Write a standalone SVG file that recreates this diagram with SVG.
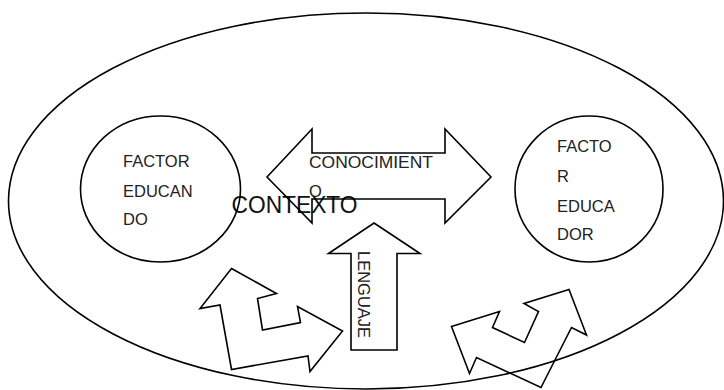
<svg xmlns="http://www.w3.org/2000/svg" width="724" height="390" viewBox="0 0 724 390">
<style>
.sh{fill:none;stroke:#000;stroke-width:1.6;stroke-linejoin:miter}
.t{font-family:"Liberation Sans",Arial,sans-serif;font-size:16.5px;fill:#222}
.big{font-family:"Liberation Sans",Arial,sans-serif;font-size:23px;fill:#111}
</style>
<rect width="724" height="390" fill="#fff"/>
<g id="contexto">
<ellipse class="sh" cx="366" cy="201" rx="357.5" ry="188"/>
<text class="big" x="231.5" y="212.5" textLength="126" lengthAdjust="spacingAndGlyphs">CONTEXTO</text>
</g>
<g id="factor-educando">
<ellipse class="sh" cx="160.5" cy="189" rx="80" ry="73"/>
<text class="t" x="123" y="167">FACTOR</text>
<text class="t" x="123" y="197">EDUCAN</text>
<text class="t" x="123" y="225">DO</text>
</g>
<g id="factor-educador">
<ellipse class="sh" cx="589" cy="189" rx="74" ry="73"/>
<text class="t" x="557" y="152">FACTO</text>
<text class="t" x="557" y="182">R</text>
<text class="t" x="557" y="212">EDUCA</text>
<text class="t" x="557" y="240">DOR</text>
</g>
<g id="connectors">
<g id="conocimiento">
<path class="sh" d="M267,177 L312,129 L312,153 L445,153 L445,129 L491,177 L445,223 L445,199 L312,199 L312,223 Z"/>
<text class="t" x="309" y="168" textLength="124" lengthAdjust="spacingAndGlyphs">CONOCIMIENT</text>
<text class="t" x="309" y="197">O</text>
</g>
<g id="lenguaje">
<path class="sh" d="M374,223 L420,253.5 L397,253.5 L397,350 L351,350 L351,253.5 L328.5,253.5 Z"/>
<text class="t" transform="translate(357.5,251) rotate(90)" x="0" y="0">LENGUAJE</text>
</g>
<path id="arrow-left" class="sh" d="M231.5,268.5 L276.5,293.5 L257.5,298.5 L262.5,330 L300.5,322.5 L297.5,306.5 L342.5,331 L310,371.5 L308,356 L231.5,369.5 L220,305 L200,308.5 Z"/>
<path id="arrow-right" class="sh" d="M569,289.5 L586.5,335 L571.5,327.5 L541,387.5 L476.5,357.5 L469.5,373.5 L451.5,326.5 L499.5,311.5 L492.5,327.5 L524.5,342.5 L538.5,311.5 L524,303.5 Z"/>
</g>
</svg>
